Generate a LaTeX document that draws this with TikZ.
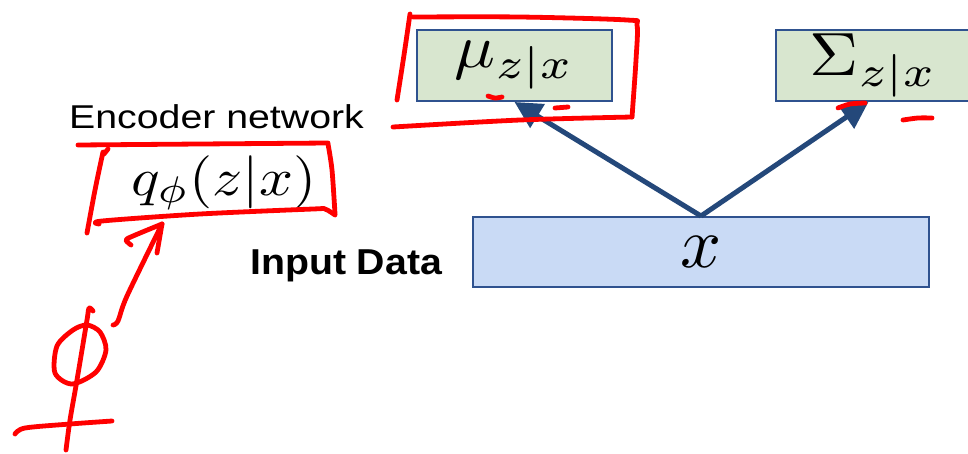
\RequirePackage{fix-cm}
\documentclass[tikz,border=0pt]{standalone}
\usepackage{fontspec}
\setsansfont{Liberation Sans}
\usetikzlibrary{arrows.meta}
\definecolor{boxline}{RGB}{47,82,143}
\definecolor{arrowblue}{RGB}{36,72,122}
\definecolor{paramfill}{RGB}{216,230,207}
\definecolor{datafill}{RGB}{201,218,245}
\definecolor{ink}{RGB}{255,0,0}
\tikzset{
  outbox/.style={draw=boxline, line width=2pt, fill=paramfill,
    minimum width=195pt, minimum height=71pt, inner sep=0pt},
  inbox/.style={draw=boxline, line width=2pt, fill=datafill,
    minimum width=456pt, minimum height=70pt, inner sep=0pt},
  flow/.style={draw=arrowblue, line width=5pt,
    -{Triangle[length=27pt,width=27pt]}},
  pen/.style={draw=ink, line width=4.8pt, line cap=round, line join=round},
}
% formula set at 10pt and enlarged, as a pasted equation image
\newcommand{\eqimg}[3]{\scalebox{#1}[#2]{$#3$}}
\begin{document}
\begin{tikzpicture}[x=1pt,y=-1pt]
\useasboundingbox (0,0) rectangle (968,453);
\begin{scope}
\clip (0,0) rectangle (968,453);
% encoder outputs and the input box
\node[outbox] (mu) at (514.5,65.5) {\eqimg{6.8}{6.1}{\mu_{z|x}}};
\node[outbox] (sigma) at (873.5,65.5) {\eqimg{6.8}{6.1}{\Sigma_{z|x}}};
\node[inbox] (xin) at (701,252) {\eqimg{7.2}{7.2}{x}};
\end{scope}
\draw[flow] (xin.north) -- (mu.south);
\draw[flow] (xin.north) -- ([xshift=-5pt]sigma.south);

% labels
\node[anchor=base west, inner sep=0pt] (enc) at (69,128)
  {\sffamily\fontsize{33}{33}\selectfont\scalebox{1.19}[1]{Encoder network}};
\node[anchor=base west, inner sep=0pt] (inp) at (250,274)
  {\sffamily\bfseries\fontsize{36}{36}\selectfont\scalebox{1.09}[1]{Input Data}};
\node[anchor=base, inner sep=0pt] (q) at (224,195) {\eqimg{5.95}{5.3}{q_\phi(z|x)}};

% hand-drawn marks round the mean box
\draw[pen] plot[smooth] coordinates {(410,14) (404,55) (397,100)};
\draw[pen] plot[smooth] coordinates {(413,17) (520,17) (627,20) (637,25) (636,60) (632,117)};
\draw[pen] plot[smooth] coordinates {(632,117) (520,120) (393,127)};
\draw[pen] plot[smooth] coordinates {(488,96) (495,98) (502,97)};
\draw[pen] (555,108) -- (568,107);
% hand-drawn marks under the covariance box
\draw[pen] plot[smooth] coordinates {(838,108) (850,104) (865,103)};
\draw[pen] plot[smooth] coordinates {(903,120) (918,118) (932,118)};

% hand-drawn box round q_phi(z|x)
\draw[pen] plot[smooth] coordinates {(78,145) (200,144) (328,143)};
\draw[pen] plot[smooth] coordinates {(328,144) (332,170) (335,214)};
\draw[pen] plot[smooth] coordinates {(335,215) (325,209) (313,209) (200,214) (102,221) (99,224)};
\draw[pen] plot[smooth] coordinates {(103,152) (95,190) (87,233)};
\draw[pen] (108,149) -- (104,154);

% hand-drawn arrow up to q_phi(z|x)
\draw[pen] plot[smooth] coordinates {(113,325) (118,321) (127,296) (162,224)};
\draw[pen] plot[smooth] coordinates {(131,245) (126,240) (133,236) (162,224)};
\draw[pen] (162,224) -- (157,253);

% hand-drawn phi
\draw[pen] plot[smooth] coordinates {(93,311) (89,308) (87,320) (77,380) (70,420) (66,450)};
\draw[pen] plot[smooth cycle] coordinates {(87,325) (100,332) (106,350) (96,372) (72,384) (55,373) (57,346) (73,330)};
\draw[pen] plot[smooth] coordinates {(15,434) (25,428) (70,424) (112,421)};
\end{tikzpicture}
\end{document}
